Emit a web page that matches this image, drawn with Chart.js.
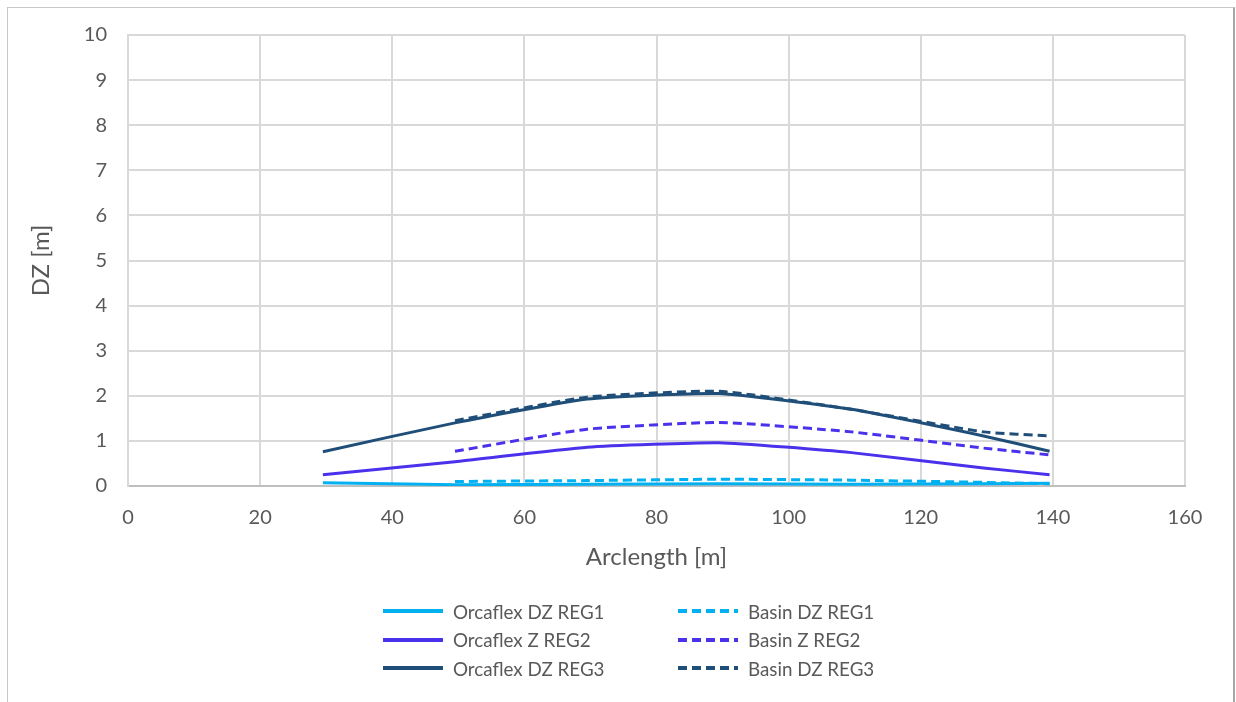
<!DOCTYPE html>
<html>
<head>
<meta charset="utf-8">
<script src="https://cdn.jsdelivr.net/npm/chart.js@4.4.1/dist/chart.umd.min.js"></script>
<style>
  html, body { margin: 0; padding: 0; background: #fff; }
  #frame {
    position: absolute; left: 7px; top: 7px; width: 1225px; height: 700px;
    border-left: 1px solid #c8c8c8; border-top: 1px solid #c8c8c8; border-right: 2px solid #a6a6a6;
  }
  #chart { position: absolute; left: 0; top: 0; }
  #legend {
    position: absolute; left: 383px; top: 597px;
    display: grid; grid-template-rows: repeat(3, 28.5px); grid-auto-flow: column;
    grid-template-columns: 295px 260px;
    font-family: Lato, sans-serif; font-size: 18.8px; color: #595959;
  }
  .item { display: flex; align-items: center; white-space: nowrap; }
  .item svg { margin-right: 10px; }
</style>
</head>
<body>
<div id="frame"></div>
<canvas id="chart" width="1236" height="702"></canvas>
<div id="legend"></div>
<script>
/* arclength stations [m] */
const orcaX   = [29.5, 49.5, 69.5, 89.5, 109.5, 129.5, 139.5];
const basinX  = [49.5, 69.5, 89.5, 109.5, 129.5, 139.5];

/* vertical displacement per regular wave [m] */
const orcaReg1  = [0.07, 0.03, 0.04, 0.05, 0.04, 0.05, 0.06];
const orcaReg2  = [0.25, 0.54, 0.86, 0.96, 0.74, 0.40, 0.25];
const orcaReg3  = [0.76, 1.40, 1.93, 2.05, 1.70, 1.11, 0.77];
const basinReg1 = [0.10, 0.12, 0.15, 0.13, 0.08, 0.05];
const basinReg2 = [0.77, 1.26, 1.41, 1.20, 0.84, 0.69];
const basinReg3 = [1.45, 1.97, 2.10, 1.70, 1.20, 1.11];

const xTicks = [0, 20, 40, 60, 80, 100, 120, 140, 160];
const yTicks = [0, 1, 2, 3, 4, 5, 6, 7, 8, 9, 10];

const C_REG1 = '#00b0f0';
const C_REG2 = '#4a32ec';
const C_REG3 = '#1f4e79';
const TEXT = '#595959';
const GRID = '#d9d9d9';
const DASH = [9, 5];

function pts(xs, ys) { return xs.map((x, i) => ({ x, y: ys[i] })); }

function series(label, xs, ys, color, dashed) {
  return {
    label,
    data: pts(xs, ys),
    borderColor: color,
    backgroundColor: color,
    borderWidth: 3,
    borderDash: dashed ? DASH : [],
    pointRadius: 0,
    tension: 0.15,
    fill: false,
  };
}

const datasets = [
  series('Orcaflex DZ REG1', orcaX, orcaReg1, C_REG1, false),
  series('Orcaflex Z REG2',  orcaX, orcaReg2, C_REG2, false),
  series('Orcaflex DZ REG3', orcaX, orcaReg3, C_REG3, false),
  series('Basin DZ REG1', basinX, basinReg1, C_REG1, true),
  series('Basin Z REG2',  basinX, basinReg2, C_REG2, true),
  series('Basin DZ REG3', basinX, basinReg3, C_REG3, true),
];

const tickFont  = { family: 'Lato, sans-serif', size: 20 };
const titleFont = { family: 'Lato, sans-serif', size: 24 };

new Chart(document.getElementById('chart'), {
  type: 'line',
  data: { datasets },
  options: {
    responsive: false,
    animation: false,
    layout: { padding: { left: 0, top: 35, right: 51, bottom: 126 } },
    plugins: { legend: { display: false }, tooltip: { enabled: false } },
    scales: {
      x: {
        type: 'linear', min: 0, max: 160,
        afterBuildTicks: s => { s.ticks = xTicks.map(v => ({ value: v })); },
        afterFit: s => { s.height = 90; },
        ticks: { color: TEXT, font: tickFont, padding: 20, maxRotation: 0 },
        grid: { color: GRID, lineWidth: 2, drawTicks: false },
        border: { color: '#bfbfbf', width: 2 },
        title: { display: true, text: 'Arclength [m]', color: TEXT, font: titleFont, padding: { top: 0, bottom: 4 } },
      },
      y: {
        min: 0, max: 10,
        afterBuildTicks: s => { s.ticks = yTicks.map(v => ({ value: v })); },
        afterFit: s => { s.width = 128; },
        ticks: { color: TEXT, font: tickFont, padding: 21 },
        grid: { color: GRID, lineWidth: 2, drawTicks: false },
        border: { color: GRID, width: 2 },
        title: { display: true, text: 'DZ [m]', color: TEXT, font: titleFont, padding: { top: 27, bottom: 0 } },
      },
    },
  },
});

/* legend: three rows, solid model results left, basin results right */
const legend = document.getElementById('legend');
datasets.forEach(ds => {
  const item = document.createElement('div');
  item.className = 'item';
  const dash = ds.borderDash.length ? `stroke-dasharray="${ds.borderDash.join(' ')}"` : '';
  item.innerHTML =
    `<svg width="60" height="6"><line x1="0" y1="3" x2="60" y2="3" stroke="${ds.borderColor}" stroke-width="4" ${dash}/></svg>` +
    `<span>${ds.label}</span>`;
  legend.appendChild(item);
});
</script>
</body>
</html>
